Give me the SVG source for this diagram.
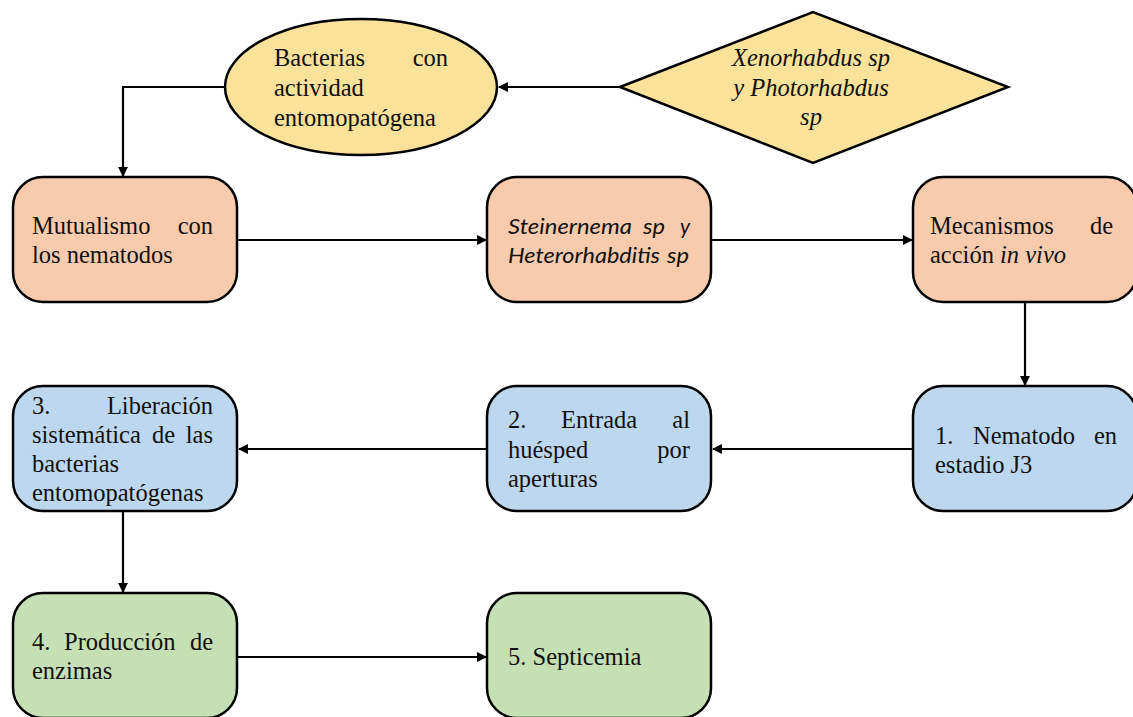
<svg xmlns="http://www.w3.org/2000/svg" width="1133" height="717" viewBox="0 0 1133 717">
<style>
.shape{stroke:#000;stroke-width:2.5}
.orange{fill:#F8CBAD}
.blue{fill:#BDD7EE}
.green{fill:#C5E0B4}
.yellow{fill:#FBE29A}
.t{font-family:"Liberation Serif","Times New Roman",serif;font-size:24.5px;fill:#111}
.it{font-style:italic}
.sans{font-family:Lato,"Open Sans","Liberation Sans",sans-serif;font-size:21px;font-style:italic;fill:#111}
.end{text-anchor:end}
.mid{text-anchor:middle}
.conn{fill:none;stroke:#000;stroke-width:2.2;marker-end:url(#arr)}
</style>
<defs>
<marker id="arr" viewBox="0 0 10 10" refX="9" refY="5" markerWidth="4.5" markerHeight="4.5" orient="auto" markerUnits="strokeWidth">
<path d="M0,0 L10,5 L0,10 z" fill="#000"/>
</marker>
</defs>
<rect width="1133" height="717" fill="#fff"/>
<g id="connectors">
<path class="conn" d="M620,87 L499,87"/>
<path class="conn" d="M225,87 L123,87 L123,176"/>
<path class="conn" d="M238,240 L486,240"/>
<path class="conn" d="M712,240 L912,240"/>
<path class="conn" d="M1025,303 L1025,385"/>
<path class="conn" d="M913,449 L713,449"/>
<path class="conn" d="M487,449 L239,449"/>
<path class="conn" d="M123,511 L123,592"/>
<path class="conn" d="M238,657 L486,657"/>
</g>
<g id="bacterias">
<ellipse class="shape yellow" cx="361" cy="87" rx="136" ry="68"/>
<text class="t" x="274" y="66">Bacterias</text>
<text class="t end" x="448" y="66">con</text>
<text class="t" x="274" y="96">actividad</text>
<text class="t" x="274" y="126">entomopatógena</text>
</g>
<g id="xenorhabdus">
<polygon class="shape yellow" points="620,87 813,12 1008,87 813,163"/>
<text class="t it mid" x="811" y="66">Xenorhabdus sp</text>
<text class="t it mid" x="811" y="96">y Photorhabdus</text>
<text class="t it mid" x="811" y="125">sp</text>
</g>
<g id="mutualismo">
<rect class="shape orange" x="13" y="177" width="224" height="125" rx="30"/>
<text class="t" x="32" y="234">Mutualismo</text>
<text class="t end" x="213" y="234">con</text>
<text class="t" x="32" y="263">los nematodos</text>
</g>
<g id="steinernema">
<rect class="shape orange" x="487" y="177" width="224" height="125" rx="30"/>
<text class="sans" x="508" y="234" textLength="124" lengthAdjust="spacingAndGlyphs">Steinernema</text>
<text class="sans" x="643" y="234" textLength="22" lengthAdjust="spacingAndGlyphs">sp</text>
<text class="sans end" x="690" y="234">y</text>
<text class="sans" x="508" y="263" textLength="152" lengthAdjust="spacingAndGlyphs">Heterorhabditis</text>
<text class="sans" x="667" y="263" textLength="22" lengthAdjust="spacingAndGlyphs">sp</text>
</g>
<g id="mecanismos">
<rect class="shape orange" x="913" y="177" width="224" height="125" rx="30"/>
<text class="t" x="930" y="234">Mecanismos</text>
<text class="t end" x="1113" y="234">de</text>
<text class="t" x="930" y="263">acción <tspan class="it">in vivo</tspan></text>
</g>
<g id="nematodo">
<rect class="shape blue" x="913" y="386" width="224" height="125" rx="30"/>
<text class="t" x="935" y="444">1.</text>
<text class="t" x="973" y="444">Nematodo</text>
<text class="t end" x="1117" y="444">en</text>
<text class="t" x="935" y="473">estadio J3</text>
</g>
<g id="entrada">
<rect class="shape blue" x="487" y="386" width="224" height="125" rx="30"/>
<text class="t" x="508" y="428">2.</text>
<text class="t" x="561" y="428">Entrada</text>
<text class="t end" x="690" y="428">al</text>
<text class="t" x="508" y="458">huésped</text>
<text class="t end" x="690" y="458">por</text>
<text class="t" x="508" y="487">aperturas</text>
</g>
<g id="liberacion">
<rect class="shape blue" x="13" y="386" width="224" height="125" rx="30"/>
<text class="t" x="32" y="414">3.</text>
<text class="t end" x="213" y="414">Liberación</text>
<text class="t" x="32" y="443">sistemática</text>
<text class="t" x="152" y="443">de</text>
<text class="t end" x="213" y="443">las</text>
<text class="t" x="32" y="472">bacterias</text>
<text class="t" x="32" y="501">entomopatógenas</text>
</g>
<g id="produccion">
<rect class="shape green" x="13" y="593" width="224" height="125" rx="30"/>
<text class="t" x="32" y="650">4.</text>
<text class="t" x="64" y="650">Producción</text>
<text class="t end" x="213" y="650">de</text>
<text class="t" x="32" y="679">enzimas</text>
</g>
<g id="septicemia">
<rect class="shape green" x="487" y="593" width="224" height="125" rx="30"/>
<text class="t" x="508" y="665">5. Septicemia</text>
</g>
</svg>
